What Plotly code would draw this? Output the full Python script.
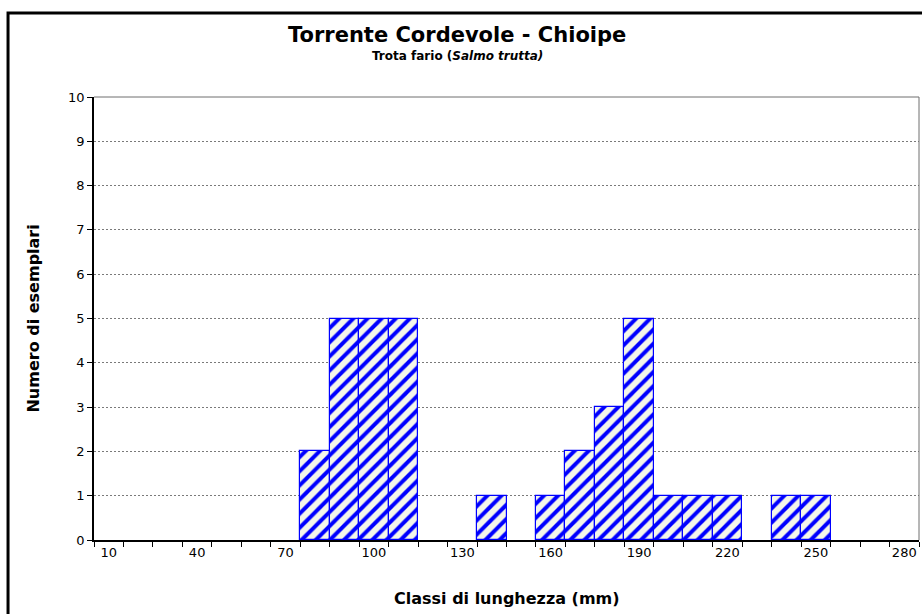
import plotly.graph_objects as go

# length classes (mm) and number of specimens in each class
classes = [10, 20, 30, 40, 50, 60, 70, 80, 90, 100, 110, 120, 130, 140,
           150, 160, 170, 180, 190, 200, 210, 220, 230, 240, 250, 260, 270, 280]
counts = [0, 0, 0, 0, 0, 0, 0, 2, 5, 5, 5, 0, 0, 1,
          0, 1, 2, 3, 5, 1, 1, 1, 0, 1, 1, 0, 0, 0]
labelled = [10, 40, 70, 100, 130, 160, 190, 220, 250, 280]
y_ticks = [0, 1, 2, 3, 4, 5, 6, 7, 8, 9, 10]

BLUE = "#0000FF"
PALE = "#F4F6EA"
FONT = "DejaVu Sans, Verdana, sans-serif"

cats = [str(c) for c in classes]

fig = go.Figure(
    go.Bar(
        x=cats,
        y=[c if c else None for c in counts],
        marker=dict(
            color=PALE,
            line=dict(color=BLUE, width=1.2),
            pattern=dict(shape="/", fgcolor=BLUE, bgcolor=PALE, fgopacity=1,
                         size=10, solidity=0.4, fillmode="replace"),
        ),
        hovertemplate="%{x} mm: %{y}<extra></extra>",
    )
)

fig.update_layout(
    width=922,
    height=614,
    paper_bgcolor="white",
    plot_bgcolor="white",
    margin=dict(l=94, r=3, t=97, b=74),
    bargap=0,
    showlegend=False,
    font=dict(family=FONT, color="black", size=13),
    xaxis=dict(
        type="category",
        categoryorder="array",
        categoryarray=cats,
        range=[-0.5, len(cats) - 0.5],
        tickvals=cats,
        ticktext=[str(c) if c in labelled else "" for c in classes],
        tickangle=0,
        tickson="boundaries",
        ticks="outside",
        ticklen=5,
        tickcolor="black",
        showline=True,
        linecolor="black",
        linewidth=1.5,
        showgrid=False,
        zeroline=False,
        tickfont=dict(size=13),
    ),
    yaxis=dict(
        range=[0, 10],
        tickvals=y_ticks,
        ticks="outside",
        ticklen=5,
        tickcolor="black",
        showline=True,
        linecolor="black",
        linewidth=1.5,
        showgrid=True,
        gridcolor="#7A7A7A",
        griddash="2px,2px",
        gridwidth=1,
        zeroline=False,
        tickfont=dict(size=13),
    ),
    annotations=[
        dict(text="<b>Torrente Cordevole - Chioipe</b>", xref="paper", yref="paper",
             x=0.44, y=1.14, xanchor="center", yanchor="middle",
             showarrow=False, font=dict(size=21)),
        dict(text="<b>Trota fario (<i>Salmo trutta)</i></b>", xref="paper", yref="paper",
             x=0.44, y=1.0926, xanchor="center", yanchor="middle",
             showarrow=False, font=dict(size=12)),
        dict(text="<b>Classi di lunghezza (mm)</b>", xref="paper", yref="paper",
             x=0.5, y=-0.131, xanchor="center", yanchor="middle",
             showarrow=False, font=dict(size=16)),
        dict(text="<b>Numero di esemplari</b>", xref="paper", yref="paper",
             x=-0.0739, y=0.5, xanchor="center", yanchor="middle",
             showarrow=False, textangle=-90, font=dict(size=16)),
    ],
    shapes=[
        # grey frame on top and right of plot area
        dict(type="line", xref="paper", yref="paper", x0=0, x1=1, y0=1, y1=1,
             line=dict(color="#6E6E6E", width=1)),
        dict(type="line", xref="paper", yref="paper", x0=1, x1=1, y0=0, y1=1,
             line=dict(color="#6E6E6E", width=1)),
        # outer chart border, runs off the right and bottom edges
        dict(type="rect", xref="paper", yref="paper", x0=-0.1042, x1=1.05,
             y0=-0.3, y1=1.1896, line=dict(color="black", width=3)),
    ],
)

fig.write_html("out.html", config={"displayModeBar": False},
               post_script="document.body.style.margin='0';")
